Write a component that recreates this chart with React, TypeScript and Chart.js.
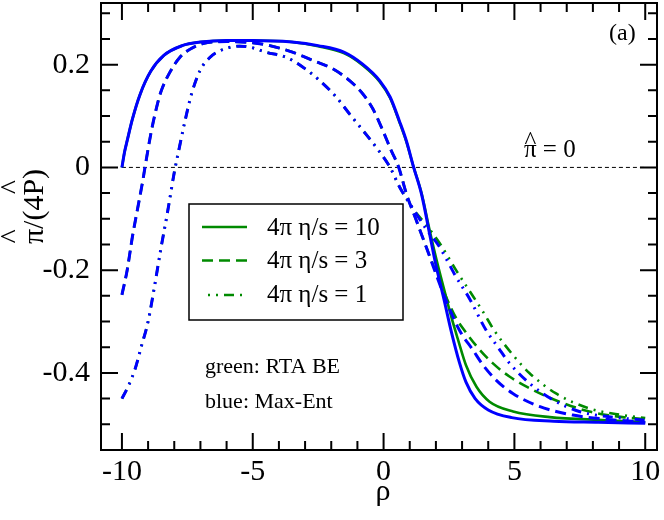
import { useEffect, useRef } from 'react';
import { Chart, registerables } from 'chart.js';

Chart.register(...registerables);

const SERIF = '"Liberation Serif", "Times New Roman", serif';
const BLUE = '#0000ff';
const GREEN = '#008a00';

// axis ticks (every tick mark) and the labelled ones
const xTicks = [-10, -9, -8, -7, -6, -5, -4, -3, -2, -1, 0, 1, 2, 3, 4, 5, 6, 7, 8, 9, 10];
const yTicks = [-0.5, -0.45, -0.4, -0.35, -0.3, -0.25, -0.2, -0.15, -0.1, -0.05, 0, 0.05, 0.1, 0.15, 0.2, 0.25, 0.3];
const xTickValues = [-10, -5, 0, 5, 10];
const xTickLabels = ['-10', '-5', '0', '5', '10'];
const yTickValues = [-0.4, -0.2, 0, 0.2];
const yTickLabels = ['-0.4', '-0.2', '0', '0.2'];

const legendLabels = ['4π η/s = 10', '4π η/s = 3', '4π η/s = 1'];

// Max-Ent (blue), 4π η/s = 10
const rhoMe10 = [-10, -9.9, -9.8, -9.6, -9.3, -8.9, -8.4, -7.7, -7.0, -6.0, -5, -3.5, -2.5, -1.5, -0.8, -0.15, 0.25, 0.6, 0.87, 1.15, 1.45, 1.75, 2.0, 2.3, 2.6, 2.9, 3.15, 3.5, 4.0, 4.9, 6.5, 8.2, 10];
const me10 = [0, 0.03, 0.052, 0.094, 0.143, 0.187, 0.218, 0.237, 0.244, 0.247, 0.247, 0.244, 0.237, 0.224, 0.201, 0.169, 0.137, 0.091, 0.052, 0, -0.052, -0.127, -0.19, -0.255, -0.322, -0.38, -0.418, -0.45, -0.472, -0.487, -0.494, -0.496, -0.498];

// RTA BE (green), 4π η/s = 10
const rhoRta10 = [-10, -9.9, -9.8, -9.6, -9.3, -8.9, -8.4, -7.7, -7.0, -6.0, -5, -3.5, -2.5, -1.5, -0.8, -0.15, 0.25, 0.6, 0.87, 1.15, 1.45, 1.75, 2.0, 2.3, 2.6, 2.85, 3.15, 3.55, 4.05, 4.95, 6.35, 8.5, 10];
const rta10 = [0, 0.03, 0.052, 0.094, 0.143, 0.187, 0.218, 0.237, 0.244, 0.247, 0.247, 0.244, 0.236, 0.222, 0.199, 0.167, 0.135, 0.089, 0.05, 0, -0.05, -0.12, -0.175, -0.235, -0.293, -0.336, -0.385, -0.427, -0.456, -0.475, -0.486, -0.492, -0.496];

// Max-Ent, 4π η/s = 3
const rhoMe3 = [-10, -9.8, -9.6, -9.4, -9.2, -9.12, -8.87, -8.61, -8.49, -8.17, -7.79, -7.4, -6.9, -6.0, -5.1, -4.35, -3.46, -2.7, -1.94, -1.3, -0.79, -0.41, -0.03, 0.29, 0.58, 0.87, 1.25, 1.63, 1.95, 2.33, 2.9, 3.41, 3.79, 4.3, 4.94, 5.95, 7.23, 8.5, 10];
const me3 = [-0.248, -0.2, -0.135, -0.08, -0.025, 0, 0.072, 0.13, 0.15, 0.185, 0.214, 0.23, 0.241, 0.245, 0.243, 0.237, 0.224, 0.208, 0.192, 0.169, 0.143, 0.114, 0.072, 0.033, 0, -0.051, -0.103, -0.155, -0.2, -0.252, -0.317, -0.355, -0.384, -0.414, -0.44, -0.465, -0.482, -0.49, -0.496];

// RTA BE, 4π η/s = 3
const rhoRta3 = [-10, -9.8, -9.6, -9.4, -9.2, -9.12, -8.87, -8.61, -8.49, -8.17, -7.79, -7.4, -6.9, -6.0, -5.1, -4.35, -3.46, -2.7, -1.94, -1.3, -0.79, -0.41, -0.03, 0.29, 0.58, 0.87, 1.25, 1.63, 1.95, 2.33, 2.77, 3.16, 3.54, 4.17, 4.81, 5.7, 6.72, 7.86, 9.13, 10];
const rta3 = [-0.248, -0.2, -0.135, -0.08, -0.025, 0, 0.072, 0.13, 0.15, 0.185, 0.214, 0.23, 0.241, 0.245, 0.243, 0.237, 0.224, 0.208, 0.192, 0.169, 0.143, 0.114, 0.072, 0.033, 0, -0.051, -0.103, -0.155, -0.197, -0.245, -0.293, -0.322, -0.347, -0.381, -0.407, -0.433, -0.456, -0.475, -0.486, -0.49];

// Max-Ent, 4π η/s = 1
const rhoMe1 = [-10, -9.75, -9.5, -9.25, -9.0, -8.75, -8.5, -8.25, -8.0, -7.8, -7.6, -7.34, -7.02, -6.64, -6.26, -5.5, -5.1, -4.48, -3.71, -3.08, -2.44, -1.81, -1.3, -0.79, -0.28, 0.25, 0.61, 1.12, 1.63, 2.14, 2.77, 3.28, 3.92, 4.36, 4.81, 5.57, 6.46, 7.48, 8.75, 10];
const me1 = [-0.45, -0.425, -0.393, -0.347, -0.3, -0.23, -0.155, -0.085, -0.01, 0.04, 0.088, 0.143, 0.188, 0.214, 0.227, 0.236, 0.234, 0.224, 0.214, 0.195, 0.169, 0.137, 0.104, 0.072, 0.039, 0, -0.038, -0.08, -0.12, -0.155, -0.213, -0.255, -0.317, -0.349, -0.381, -0.42, -0.452, -0.475, -0.486, -0.492];

// RTA BE, 4π η/s = 1
const rhoRta1 = [-10, -9.75, -9.5, -9.25, -9.0, -8.75, -8.5, -8.25, -8.0, -7.8, -7.6, -7.34, -7.02, -6.64, -6.26, -5.5, -5.1, -4.48, -3.71, -3.08, -2.44, -1.81, -1.3, -0.79, -0.28, 0.25, 0.61, 1.12, 1.63, 2.14, 2.77, 3.28, 3.79, 4.24, 5.06, 5.57, 6.59, 7.86, 9.13, 10];
const rta1 = [-0.45, -0.425, -0.393, -0.347, -0.3, -0.23, -0.155, -0.085, -0.01, 0.04, 0.088, 0.143, 0.188, 0.214, 0.227, 0.236, 0.234, 0.224, 0.214, 0.195, 0.169, 0.137, 0.104, 0.072, 0.039, 0, -0.038, -0.08, -0.112, -0.147, -0.2, -0.24, -0.28, -0.318, -0.372, -0.4, -0.44, -0.469, -0.482, -0.488];

// reference line pi = 0
const zeroRho = [-10, 10];
const zeroVal = [0, 0];

const DASH = [11, 6];
const DASH_DOT = [10, 6, 2, 6, 2, 6];
const MAJOR = 17;
const MINOR = 9;

function pts(xs: number[], ys: number[]) {
  return xs.map((x, i) => ({ x, y: ys[i] }));
}

function curve(label: string, xs: number[], ys: number[], color: string, dash: number[], width: number) {
  return {
    label,
    data: pts(xs, ys),
    borderColor: color,
    borderWidth: width,
    borderDash: dash,
    borderCapStyle: 'butt' as const,
    pointRadius: 0,
    fill: false,
    cubicInterpolationMode: 'monotone' as const,
  };
}

function isMajor(v: number, list: number[]) {
  return list.some((t) => Math.abs(t - v) < 1e-6);
}

// frame with inward ticks on all four sides
const framePlugin = {
  id: 'frame',
  afterDatasetsDraw(chart: any) {
    const { ctx, chartArea: a, scales } = chart;
    const sx = scales.x;
    const sy = scales.y;
    ctx.save();
    ctx.strokeStyle = '#000';
    ctx.lineWidth = 2;
    ctx.beginPath();
    for (const v of xTicks) {
      const px = sx.getPixelForValue(v);
      const len = isMajor(v, xTickValues) ? MAJOR : MINOR;
      ctx.moveTo(px, a.bottom);
      ctx.lineTo(px, a.bottom - len);
      ctx.moveTo(px, a.top);
      ctx.lineTo(px, a.top + len);
    }
    for (const v of yTicks) {
      const py = sy.getPixelForValue(v);
      const len = isMajor(v, yTickValues) ? MAJOR : MINOR;
      ctx.moveTo(a.left, py);
      ctx.lineTo(a.left + len, py);
      ctx.moveTo(a.right, py);
      ctx.lineTo(a.right - len, py);
    }
    ctx.stroke();
    ctx.strokeRect(a.left, a.top, a.right - a.left, a.bottom - a.top);
    ctx.restore();
  },
};

function hat(ctx: CanvasRenderingContext2D, cx: number, baseY: number) {
  ctx.save();
  ctx.textAlign = 'center';
  ctx.fillText('^', cx, baseY);
  ctx.restore();
}

const notesPlugin = {
  id: 'notes',
  afterDraw(chart: any) {
    const ctx: CanvasRenderingContext2D = chart.ctx;
    ctx.save();
    ctx.fillStyle = '#000';
    ctx.textBaseline = 'alphabetic';
    ctx.textAlign = 'left';

    // legend box
    ctx.lineWidth = 1.5;
    ctx.strokeStyle = '#000';
    ctx.strokeRect(189, 204, 214, 116);
    const greens = chart.data.datasets.filter((d: any) => d.borderColor === GREEN);
    const lineY = [227, 260.5, 295];
    const textY = [235, 268, 302];
    ctx.font = `25px ${SERIF}`;
    greens.forEach((d: any, i: number) => {
      ctx.save();
      ctx.strokeStyle = d.borderColor;
      ctx.lineWidth = d.borderWidth;
      ctx.setLineDash(d.borderDash);
      ctx.lineDashOffset = i === 2 ? 10 : 0;
      ctx.beginPath();
      ctx.moveTo(202, lineY[i]);
      ctx.lineTo(247, lineY[i]);
      ctx.stroke();
      ctx.restore();
      ctx.fillText(legendLabels[i], 267, textY[i]);
    });

    ctx.font = `22px ${SERIF}`;
    ctx.fillText('green: RTA BE', 205, 373);
    ctx.fillText('blue: Max-Ent', 205, 408);

    ctx.font = `24px ${SERIF}`;
    ctx.fillText('(a)', 609, 40);

    ctx.font = `25px ${SERIF}`;
    ctx.fillText('π = 0', 524, 157);
    hat(ctx, 524 + ctx.measureText('π').width / 2, 149);

    // axis titles
    ctx.font = `30px ${SERIF}`;
    ctx.textAlign = 'center';
    ctx.fillText('ρ', 383, 500);

    ctx.save();
    ctx.translate(43, 206.5);
    ctx.rotate(-Math.PI / 2);
    const s = 'π/(4P)';
    const w = ctx.measureText(s).width;
    const x0 = -w / 2;
    ctx.textAlign = 'left';
    ctx.fillText(s, x0, 0);
    hat(ctx, x0 + ctx.measureText('π').width / 2, -22);
    hat(ctx, x0 + ctx.measureText('π/(4').width + ctx.measureText('P').width / 2, -22);
    ctx.restore();

    ctx.restore();
  },
};

export default function App() {
  const canvasRef = useRef<HTMLCanvasElement>(null);
  const chartRef = useRef<Chart | null>(null);

  useEffect(() => {
    document.body.style.margin = '0';
    if (!canvasRef.current) return;
    if (chartRef.current) chartRef.current.destroy();

    const tickFont = { family: SERIF, size: 30 };

    chartRef.current = new Chart(canvasRef.current, {
      type: 'line',
      data: {
        datasets: [
          curve('ME 10', rhoMe10, me10, BLUE, [], 3),
          curve('ME 3', rhoMe3, me3, BLUE, DASH, 3),
          curve('ME 1', rhoMe1, me1, BLUE, DASH_DOT, 3),
          curve('RTA 10', rhoRta10, rta10, GREEN, [], 2.6),
          curve('RTA 3', rhoRta3, rta3, GREEN, DASH, 2.6),
          curve('RTA 1', rhoRta1, rta1, GREEN, DASH_DOT, 2.6),
          curve('zero', zeroRho, zeroVal, '#000', [4, 3], 1),
        ] as any,
      },
      options: {
        animation: false,
        responsive: true,
        maintainAspectRatio: false,
        layout: { padding: { top: 3, right: 7, left: 0, bottom: 0 }, autoPadding: false },
        plugins: {
          legend: { display: false },
          tooltip: { enabled: false },
        },
        scales: {
          x: {
            type: 'linear',
            min: -10.8,
            max: 10.45,
            border: { display: false },
            grid: { display: false, drawTicks: false },
            afterBuildTicks: (s: any) => {
              s.ticks = xTickValues.map((value) => ({ value }));
            },
            ticks: {
              autoSkip: false,
              maxRotation: 0,
              padding: 4,
              color: '#000',
              font: tickFont,
              callback: (v: any) => {
                const i = xTickValues.findIndex((t) => Math.abs(t - Number(v)) < 1e-6);
                return i >= 0 ? xTickLabels[i] : '';
              },
            },
            afterFit: (s: any) => {
              s.height = 70;
              s.paddingLeft = 0;
              s.paddingRight = 0;
              s.paddingTop = 0;
              s.paddingBottom = 0;
            },
          },
          y: {
            type: 'linear',
            min: -0.55,
            max: 0.32,
            border: { display: false },
            grid: { display: false, drawTicks: false },
            afterBuildTicks: (s: any) => {
              s.ticks = yTickValues.map((value) => ({ value }));
            },
            ticks: {
              autoSkip: false,
              padding: 11,
              color: '#000',
              font: tickFont,
              callback: (v: any) => {
                const i = yTickValues.findIndex((t) => Math.abs(t - Number(v)) < 1e-6);
                return i >= 0 ? yTickLabels[i] : '';
              },
            },
            afterFit: (s: any) => {
              s.width = 101;
              s.paddingLeft = 0;
              s.paddingRight = 0;
              s.paddingTop = 0;
              s.paddingBottom = 0;
            },
          },
        },
      },
      plugins: [framePlugin, notesPlugin],
    });

    return () => {
      if (chartRef.current) {
        chartRef.current.destroy();
        chartRef.current = null;
      }
    };
  }, []);

  return (
    <div style={{ width: '664px', height: '520px', position: 'relative', background: '#fff' }}>
      <canvas ref={canvasRef} />
    </div>
  );
}
